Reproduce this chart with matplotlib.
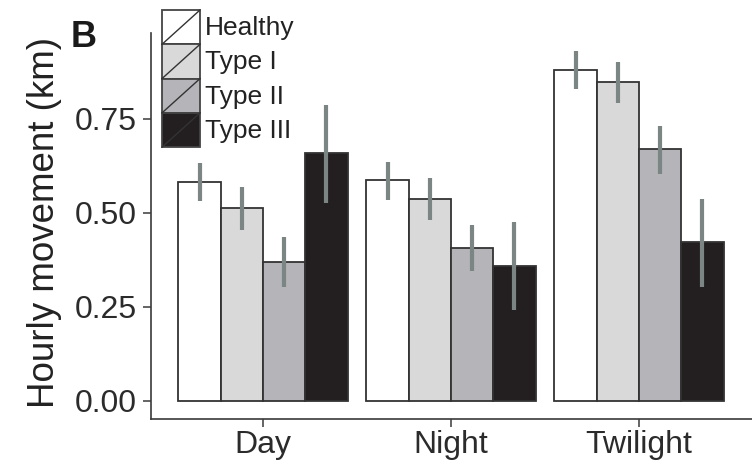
import numpy as np
import matplotlib
matplotlib.use("Agg")
import matplotlib.pyplot as plt
from matplotlib.patches import Rectangle

plt.rcParams["font.family"] = ["Liberation Sans", "DejaVu Sans"]

# ---------------------------------------------------------------------------
# Data
# ---------------------------------------------------------------------------
periods = ["Day", "Night", "Twilight"]
groups = ["Healthy", "Type I", "Type II", "Type III"]

healthy = [0.582, 0.587, 0.881]
type1 = [0.513, 0.536, 0.848]
type2 = [0.370, 0.408, 0.669]
type3 = [0.660, 0.360, 0.422]

healthy_lo = [0.532, 0.535, 0.829]
healthy_hi = [0.634, 0.636, 0.932]
type1_lo = [0.455, 0.481, 0.793]
type1_hi = [0.569, 0.592, 0.902]
type2_lo = [0.304, 0.346, 0.604]
type2_hi = [0.435, 0.468, 0.732]
type3_lo = [0.526, 0.242, 0.302]
type3_hi = [0.787, 0.477, 0.538]

yticks = [0.00, 0.25, 0.50, 0.75]

colors = ["#ffffff", "#d9d9d9", "#b4b4b9", "#231f20"]
edge = "#333333"
err_col = "#7b8583"

means = [healthy, type1, type2, type3]
lows = [healthy_lo, type1_lo, type2_lo, type3_lo]
highs = [healthy_hi, type1_hi, type2_hi, type3_hi]

# ---------------------------------------------------------------------------
# Figure
# ---------------------------------------------------------------------------
W, H = 752, 466
fig = plt.figure(figsize=(W / 100, H / 100), dpi=100)
ax = fig.add_axes([151 / W, (H - 419) / H, 601 / W, 386 / H])

x = np.arange(len(periods))
width = 0.225
for i, g in enumerate(groups):
    pos = x + (i - 1.5) * width
    ax.bar(pos, means[i], width=width, color=colors[i], edgecolor=edge,
           linewidth=1.3, zorder=2)
    ax.vlines(pos, lows[i], highs[i], color=err_col, linewidth=3.0, zorder=3)

ax.set_xlim(-0.596, 2.601)
ax.set_ylim(-0.0479, 0.9787)
ax.set_xticks(x)
ax.set_xticklabels(periods)
ax.set_yticks(yticks)
ax.set_yticklabels([f"{t:.2f}" for t in yticks])

for s in ["top", "right"]:
    ax.spines[s].set_visible(False)
for s in ["left", "bottom"]:
    ax.spines[s].set_color("#3a3a3a")
    ax.spines[s].set_linewidth(1.2)

ax.tick_params(axis="both", colors="#3a3a3a", labelcolor="#2b2b2b",
               length=6, width=1.1, labelsize=23)
ax.tick_params(axis="y", pad=4)
ax.tick_params(axis="x", pad=2)

fig.text(45 / W, 1 - 223 / H, "Hourly movement (km)", rotation=90,
         ha="center", va="center", fontsize=26.5, color="#222222")
fig.text(71 / W, 1 - 47 / H, "B", fontsize=26, fontweight="bold",
         ha="left", va="baseline", color="#1a1a1a")

# ---------------------------------------------------------------------------
# Legend drawn in pixel coordinates
# ---------------------------------------------------------------------------
ov = fig.add_axes([0, 0, 1, 1], zorder=5)
ov.set_xlim(0, W)
ov.set_ylim(H, 0)
ov.axis("off")

kx0, kx1 = 162, 200
ky0, kh = 10, 34.3
for i, g in enumerate(groups):
    top = ky0 + i * kh
    ov.add_patch(Rectangle((kx0, top), kx1 - kx0, kh, facecolor=colors[i],
                           edgecolor="#444444", linewidth=1.3))
    ov.plot([kx0, kx1], [top + kh, top], color="#333333", linewidth=1.0)
    ov.text(205, top + kh / 2 + 1, g, fontsize=19, color="#222222",
            ha="left", va="center")

fig.savefig("out.png", dpi=100)
